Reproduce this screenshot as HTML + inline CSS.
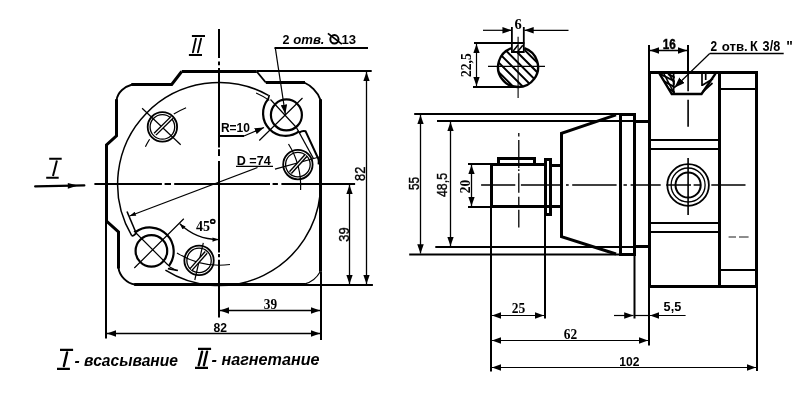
<!DOCTYPE html>
<html><head><meta charset="utf-8">
<style>
html,body{margin:0;padding:0;background:#fff;}
body{width:799px;height:420px;overflow:hidden;}
svg{display:block;will-change:transform;}
.sn{font-family:"Liberation Sans",sans-serif;font-weight:bold;}
.sf{font-family:"Liberation Serif",serif;font-weight:bold;}
.md{font-family:"Liberation Sans",sans-serif;font-weight:normal;stroke:#000;stroke-width:0.35px;}
</style></head>
<body>
<svg width="799" height="420" viewBox="0 0 799 420">
<defs>
<marker id="ar" viewBox="0 0 10 7" refX="10" refY="3.5" markerWidth="9.5" markerHeight="6.5" orient="auto-start-reverse" markerUnits="userSpaceOnUse">
<path d="M0,0 L10,3.5 L0,7 z" fill="#000"/></marker>
<marker id="as" viewBox="0 0 10 7" refX="10" refY="3.5" markerWidth="7" markerHeight="5" orient="auto-start-reverse" markerUnits="userSpaceOnUse">
<path d="M0,0 L10,3.5 L0,7 z" fill="#000"/></marker>
<marker id="ab" viewBox="0 0 10 7" refX="10" refY="3.5" markerWidth="11" markerHeight="7.5" orient="auto-start-reverse" markerUnits="userSpaceOnUse">
<path d="M0,0 L10,3.5 L0,7 z" fill="#000"/></marker>
<marker id="an" viewBox="0 0 10 7" refX="10" refY="3.5" markerWidth="13" markerHeight="4.4" orient="auto-start-reverse" markerUnits="userSpaceOnUse">
<path d="M0,0 L10,3.5 L0,7 z" fill="#000"/></marker>
<marker id="an2" viewBox="0 0 10 7" refX="10" refY="3.5" markerWidth="10.5" markerHeight="4.2" orient="auto-start-reverse" markerUnits="userSpaceOnUse">
<path d="M0,0 L10,3.5 L0,7 z" fill="#000"/></marker>
<clipPath id="shaftclip">
<path d="M511.7,48.1 A20,20 0 1 0 524.4,48.1 L524.4,52 L511.7,52 Z"/>
</clipPath>
</defs>
<rect width="799" height="420" fill="#fff"/>

<!-- ================= LEFT VIEW ================= -->
<g fill="none" stroke="#000" stroke-linecap="butt" stroke-linejoin="miter">
<!-- outline thick -->
<path stroke-width="3" d="M181.7,71.5 L171.7,84.5 L131.4,84.5 M116.5,99.2 L116.5,135.8 L106.5,145 L106.5,221 L118.5,232 L118.5,268.6 M134.2,284.5 L305,284.5"/>
<path stroke-width="1.9" d="M132.2,84.5 C125,86.5 117.5,92 116.5,100.5 M118.5,267.8 C119.5,276 127,283.5 135,284.5 M304.2,82.5 C310,85 318,92 320.5,100"/>
<path stroke-width="3" d="M181.7,71.5 L256.7,71.5 M265.8,82.5 L305,82.5 M320.5,99.2 L320.5,271.7"/>
<path stroke-width="1.9" d="M256.7,71.5 L265.8,82.5"/>
<!-- extension lines -->
<path stroke-width="2" d="M256.7,71 H371.7 M305,285 H372.9 M321,271.7 V340 M106,221 V338.5"/>
<path stroke-width="1.2" d="M305,283.8 Q315,281 320.2,271.7"/>
<!-- centerlines -->
<path stroke-width="2" d="M219,28.9 V58 M219,61.6 V65.2 M219,67.9 V147.4 M219,149.2 V155.9 M219,161 V252.4 M219,254 V257.2 M219,259.7 V317.6"/>
<path stroke-width="2" d="M94.4,184 H161.9 M164.6,184 H171 M174.2,184 H270 M272.6,184 H277.9 M281.4,184 H355.1"/>
<!-- big circle D=74 -->
<path stroke-width="1.5" d="M268.4,95.3 A101.5,101.5 0 0 0 131.7,235.6"/>
<path stroke-width="1.5" d="M320.1,194.7 A101.5,101.5 0 0 1 165.4,270.2"/>
<!-- slot inner lines -->
<path stroke-width="1.1" d="M256.1,93 Q263,96 269.3,100.4"/>
<path stroke-width="2" d="M299.3,132.6 Q302.5,130.2 305.6,131.3 L318.2,158.5 Q319.2,161 318.6,164.5"/>
<path stroke-width="1.3" d="M296.4,127.5 L313.3,158.3"/>
<path stroke-width="1.6" d="M127,211.5 L136,232.8"/>
<path stroke-width="1.8" d="M131.7,235.4 Q133.2,236.8 136.2,233.2"/>
<path stroke-width="1.6" d="M167.9,268.6 L177.9,270.5"/>
<path stroke-width="1.1" d="M169.3,266.8 L177,270.7"/>

<!-- big hole top-right -->
<circle cx="286.4" cy="114.9" r="15.5" stroke-width="2.2"/>
<path stroke-width="2.2" d="M268.3,98.9 A22.5,22.5 0 0 0 299.3,131.15"/>
<path stroke-width="1.6" d="M269.3,95 L268.3,99"/>
<path stroke-width="1.2" d="M302.5,98 L259.3,140.5 M270.5,99.5 L296.4,127.5"/>
<!-- big hole lower-left -->
<circle cx="151.4" cy="250.9" r="15.8" stroke-width="2.2"/>
<path stroke-width="2.2" d="M135.6,232 A24,24 0 0 1 168.6,266.2"/>
<path stroke-width="1.2" d="M134,231 L168,265 M183.8,218.8 L134.3,268"/>

<!-- small holes -->
<g>
<circle cx="162.4" cy="126.9" r="14.7" stroke-width="1.8"/>
<circle cx="162.4" cy="126.9" r="12.3" stroke-width="1.3"/>
<path stroke-width="1.2" d="M142.1,108.2 L180.7,144.7"/>
<path stroke-width="1.2" d="M186.1,107.7 A80,80 0 0 0 173.8,114.1 M149.6,139.3 A80,80 0 0 0 145.4,146.8"/>
<path stroke-width="4" d="M172.1,117.3 L155,134.2"/>
<path stroke-width="1.2" stroke="#fff" d="M172.1,117.3 L155,134.2"/>
</g>
<g>
<circle cx="297.9" cy="164.6" r="14.7" stroke-width="1.8"/>
<circle cx="297.9" cy="164.6" r="12.3" stroke-width="1.3"/>
<path stroke-width="1.2" d="M275,169.1 L319.2,157"/>
<path stroke-width="1.2" d="M288.5,144 A80,80 0 0 1 300.6,190"/>
<path stroke-width="4" d="M306.1,155.4 L290.4,172.6"/>
<path stroke-width="1.2" stroke="#fff" d="M306.1,155.4 L290.4,172.6"/>
</g>
<g>
<circle cx="199.05" cy="260.4" r="14.7" stroke-width="1.8"/>
<circle cx="199.05" cy="260.4" r="12.2" stroke-width="1.3"/>
<path stroke-width="1.2" d="M203.3,242.8 L194.8,280"/>
<path stroke-width="1.2" d="M177,252.9 A80,80 0 0 0 230,264.5"/>
<path stroke-width="4" d="M206.2,252.4 L191,269.5"/>
<path stroke-width="1.2" stroke="#fff" d="M206.2,252.4 L191,269.5"/>
</g>

<!-- 45 deg angle -->

<path stroke-width="1.3" marker-start="url(#an2)" marker-end="url(#an2)" d="M179.8,223.8 A55.6,55.6 0 0 0 218.5,239.6"/>

<!-- leaders -->
<path stroke-width="1.2" marker-end="url(#ar)" d="M275.3,47.8 L285.3,114"/>
<path stroke-width="2" d="M274.5,48 H368"/>
<path stroke-width="2" d="M219,136 H244"/>
<path stroke-width="1.3" marker-end="url(#ar)" d="M244,136 L264,127.5"/>
<path stroke-width="1.2" marker-end="url(#an)" d="M257.5,167.5 L129.6,216"/>
<path stroke-width="1.3" d="M236,166.3 H273"/>

<!-- dimensions left view -->
<path stroke-width="1.3" marker-start="url(#ar)" marker-end="url(#ar)" d="M366.5,72 V284"/>
<path stroke-width="1.3" marker-start="url(#ar)" marker-end="url(#ar)" d="M349.5,185 V284"/>
<path stroke-width="1.3" marker-start="url(#ar)" marker-end="url(#ar)" d="M220,310.5 H320"/>
<path stroke-width="1.3" marker-start="url(#ar)" marker-end="url(#ar)" d="M107,333.5 H320"/>

<!-- I arrow -->
<path stroke-width="2.3" stroke-linecap="round" d="M35.2,186.4 L84.3,185.4"/>
<path fill="#000" stroke="none" d="M67.8,183 L78,185.6 L67.8,188.7 Z"/>
<path stroke-width="2" d="M49.2,158.8 H61.7 M46.2,177.8 H58.7"/>
<path stroke-width="2" d="M56.9,160.5 L53,176"/>
<!-- II top -->
<path stroke-width="2" d="M191.9,35.9 H205 M188.9,54.9 H202"/>
<path stroke-width="1.9" stroke-linecap="round" d="M195.9,38.6 L192.9,52.4 M201.1,38.6 L197.9,52.4"/>
</g>

<!-- left view text -->
<g fill="#000">
<text class="sn" x="282.6" y="43.6" font-size="12.5">2</text>
<text class="sn" x="293.2" y="43.6" font-size="12.5" font-style="italic" textLength="31.3" lengthAdjust="spacingAndGlyphs">отв.</text>
<text class="sn" x="341.4" y="43.6" font-size="12.5" textLength="14.6" lengthAdjust="spacingAndGlyphs">13</text>
<ellipse cx="334.4" cy="39.3" rx="4.1" ry="4.2" fill="none" stroke="#000" stroke-width="2"/>
<path d="M327.9,33.4 L341.9,44.1" stroke="#000" stroke-width="1.8"/>
<text class="sn" x="220.9" y="131.9" font-size="13.5" textLength="29" lengthAdjust="spacingAndGlyphs">R=10</text>
<text class="sn" x="236.7" y="165" font-size="13.5" textLength="34" lengthAdjust="spacingAndGlyphs">D =74</text>
<text class="sf" x="196" y="230.8" font-size="14">45</text>
<ellipse cx="212.75" cy="221.4" rx="2.1" ry="1.75" fill="none" stroke="#000" stroke-width="1.6"/>
<text class="sf" x="263.8" y="308.9" font-size="14.5" textLength="13.3" lengthAdjust="spacingAndGlyphs">39</text>
<text class="sn" x="213.5" y="331.5" font-size="13" textLength="13.5" lengthAdjust="spacingAndGlyphs">82</text>
<text class="md" transform="translate(365.3,181) rotate(-90)" font-size="14" textLength="14.3" lengthAdjust="spacingAndGlyphs">82</text>
<text class="md" transform="translate(348.7,241.7) rotate(-90)" font-size="14" textLength="14.3" lengthAdjust="spacingAndGlyphs">39</text>
<!-- legend -->
<text class="sn" x="74.6" y="365.6" font-size="17" font-style="italic" textLength="103.4" lengthAdjust="spacingAndGlyphs">- всасывание</text>
<text class="sn" x="211.6" y="364.6" font-size="17" font-style="italic" textLength="108" lengthAdjust="spacingAndGlyphs">- нагнетание</text>
</g>
<g fill="none" stroke="#000" stroke-width="2">
<path stroke-width="2.2" d="M60,349.9 H73.1 M57,368.9 H69.9 M198,348.9 H211.1 M195,367.9 H208"/>
<path stroke-width="2.4" stroke-linecap="round" d="M67.1,352.5 L63.9,366 M202.1,351.6 L198.7,365.3 M207.1,351.6 L203.9,365.3"/>
</g>

<!-- ================= RIGHT VIEW ================= -->
<g fill="none" stroke="#000" stroke-linecap="butt">
<!-- shaft section -->
<g clip-path="url(#shaftclip)" stroke-width="2">
<path d="M389.0,20 L489.0,120 M398.6,20 L498.6,120 M408.2,20 L508.2,120 M417.8,20 L517.8,120 M427.4,20 L527.4,120 M437.0,20 L537.0,120 M446.6,20 L546.6,120 M456.2,20 L556.2,120 M465.8,20 L565.8,120 M475.4,20 L575.4,120 M485.0,20 L585.0,120 M494.6,20 L594.6,120 M504.2,20 L604.2,120 M513.8,20 L613.8,120 M523.4,20 L623.4,120 M533.0,20 L633.0,120 M542.6,20 L642.6,120 M552.2,20 L652.2,120"/>
</g>
<path stroke-width="2.4" d="M511.7,48.1 A20,20 0 1 0 524.4,48.1"/>
<path stroke-width="1.8" d="M511.9,27.1 V52 H523.8 V27.1"/>
<path stroke-width="1.5" d="M513.2,51 L518,45 M518,51.3 L522.8,45.3"/>
<path stroke-width="2" d="M474,43 H524.4 M473,87 H518"/>
<path stroke-width="1.1" d="M488,66.4 H545 M518.1,36.8 V97.9"/>
<path stroke-width="1.2" marker-start="url(#ar)" marker-end="url(#ar)" d="M476.5,44 V86"/>
<path stroke-width="1.2" marker-end="url(#ar)" d="M483,30.3 H511.7"/>
<path stroke-width="1.2" marker-end="url(#ar)" d="M568.5,30.3 H524.4"/>

<!-- main ext lines -->
<path stroke-width="2" d="M414.2,114 H620 M437,121 H634.5 M435.3,247 H634.5 M409.2,254.5 H620"/>
<path stroke-width="3" d="M619,114.5 H636 M634.5,121.5 H649.5 M634.5,246.5 H649.5 M619,254.5 H636"/>
<path stroke-width="1.3" marker-start="url(#ar)" marker-end="url(#ar)" d="M420.5,115 V253.5"/>
<path stroke-width="1.3" marker-start="url(#ar)" marker-end="url(#ar)" d="M450.5,122 V246"/>
<path stroke-width="2" d="M468,164 H490 M468,207 H490"/>
<path stroke-width="1.3" marker-start="url(#ar)" marker-end="url(#ar)" d="M471.5,165 V206"/>

<!-- shaft -->
<path stroke-width="3" d="M490,164.5 H545 M490,206.5 H561 M491.5,163 V208"/>
<path stroke-width="3" d="M498.5,163.5 V158.5 H534.5 V163.5"/>
<!-- ring -->
<rect x="545.5" y="159.5" width="5" height="55" stroke-width="3"/>
<path stroke-width="3" d="M552,165.5 H561"/>
<!-- flange taper -->
<path stroke-width="3" d="M616,114.8 L561.5,133.3 V236.6 L616,254"/>
<!-- flange plate -->
<path stroke-width="3" d="M620.5,255 V113 M634.5,113 V256"/>
<!-- body -->
<path stroke-width="3" d="M649.5,72.5 H756.5 V286.5 H649.5 Z"/>
<path stroke-width="3" d="M719.5,72.5 V286.5"/>
<path stroke-width="2" d="M649.5,140 H719.5 M649.5,149 H719.5 M649.5,223 H719.5 M649.5,232 H719.5 M719.5,89 H756.5 M719.5,270 H756.5"/>
<path stroke-width="0.9" d="M728.6,237 H736 M739,237 H748.6"/>

<!-- port top -->
<clipPath id="portclip"><path d="M660,73.5 L674.8,73.5 L674.8,93 L671.5,93 Z"/></clipPath>
<g clip-path="url(#portclip)" stroke-width="2"><path d="M660,74 L676,82 M662,80 L676,88 M664,86 L676,93 M668,74 L676,78"/><path stroke-width="1.6" d="M664,74 L674,93 M669,74 L676,86"/></g>

<path stroke-width="2.4" d="M659.5,73.6 L671.8,94 H701.5 L715.5,73.6"/>
<path stroke-width="1.8" d="M673.6,74 V93"/>
<path stroke-width="1.7" d="M702,74 V86 M705.7,74 V80 M702.3,85.3 L713,78.7 M702.5,92 L712.5,83"/>
<!-- port circles -->
<circle cx="688.1" cy="185" r="20.8" stroke-width="1.8"/>
<circle cx="688.1" cy="185" r="17" stroke-width="1.3"/>
<circle cx="688.1" cy="185" r="12.6" stroke-width="2"/>
<!-- centerlines right -->
<path stroke-width="1.6" d="M481.1,185 H515.3 M520.9,185 H562.6 M566,185 H568.7 M572.2,185 H616.6 M623.5,185 H626.9 M630.6,185 H660.7 M666.3,185 H691 M693.6,185 H700.7 M711.3,185 H745.5"/>
<path stroke-width="1.3" d="M518.8,133 V136.5 M518.8,140 V168 M518.8,169.3 V171 M518.8,173.2 V192.8 M518.8,196.8 V206 M518.8,209.8 V227.4"/>
<path stroke-width="1.6" d="M688.1,72 V91.2 M688.1,99.8 V126.7 M688.1,158 V215"/>
<!-- 16 dim -->
<path stroke-width="2" d="M649,44.9 V72 M688,44.9 V72"/>
<path stroke-width="1.3" marker-start="url(#ar)" marker-end="url(#ar)" d="M650,50.5 H687"/>
<!-- K 3/8 leader -->
<path stroke-width="1.5" d="M709.7,53.5 H783.7"/>
<path stroke-width="1.2" marker-end="url(#ab)" d="M709.7,53.5 L674.3,87.7"/>

<!-- bottom ext lines -->
<path stroke-width="2" d="M491,208 V371.6 M545,216 V318.4 M634.5,256 V318.5 M649,286.5 V345.5 M757,286.5 V371"/>
<path stroke-width="1.2" marker-start="url(#ar)" marker-end="url(#ar)" d="M492,315.5 H544"/>
<path stroke-width="1.2" marker-start="url(#ar)" marker-end="url(#ar)" d="M492,340.5 H648"/>
<path stroke-width="1.2" marker-start="url(#ar)" marker-end="url(#ar)" d="M492,367.5 H756"/>
<path stroke-width="1.2" marker-end="url(#ar)" d="M614,315.5 H633.5"/>
<path stroke-width="1.2" marker-end="url(#ar)" d="M685.6,315.5 H650"/>
<path stroke-width="1.2" d="M634.5,315.5 H649.5"/>
</g>

<!-- right view text -->
<g fill="#000">
<text class="sf" x="514.6" y="28.9" font-size="14.5">6</text>
<text class="sf" transform="translate(470.8,77) rotate(-90)" font-size="14" textLength="23.8" lengthAdjust="spacingAndGlyphs">22,5</text>
<text class="md" transform="translate(419,190) rotate(-90)" font-size="14" textLength="13.2" lengthAdjust="spacingAndGlyphs">55</text>
<text class="md" transform="translate(447.3,197) rotate(-90)" font-size="14" textLength="24" lengthAdjust="spacingAndGlyphs">48,5</text>
<text class="sf" transform="translate(470,193.2) rotate(-90)" font-size="14.5" textLength="13.5" lengthAdjust="spacingAndGlyphs">20</text>
<text class="sn" x="662.7" y="49" font-size="13.8" textLength="13" lengthAdjust="spacingAndGlyphs" stroke="#000" stroke-width="0.45">16</text>
<text class="sn" x="710.4" y="50.9" font-size="13.8" textLength="6.6" lengthAdjust="spacingAndGlyphs">2</text>
<text class="sn" x="721.8" y="50.9" font-size="13" textLength="26" lengthAdjust="spacingAndGlyphs">отв.</text>
<text class="sn" x="750" y="50.9" font-size="13.8" textLength="7.8" lengthAdjust="spacingAndGlyphs">К</text>
<text class="sn" x="762.6" y="50.9" font-size="13.8" textLength="17.6" lengthAdjust="spacingAndGlyphs">3/8</text>
<text class="sn" x="786.2" y="50.9" font-size="13.8" textLength="6.6" lengthAdjust="spacingAndGlyphs">"</text>
<text class="sf" x="511.8" y="312.9" font-size="14.5" textLength="13.5" lengthAdjust="spacingAndGlyphs">25</text>
<text class="sf" x="563.8" y="338.7" font-size="14.5" textLength="13.4" lengthAdjust="spacingAndGlyphs">62</text>
<text class="sn" x="619.2" y="366.2" font-size="13" textLength="20.2" lengthAdjust="spacingAndGlyphs">102</text>
<text class="sn" x="663.6" y="310.6" font-size="13" textLength="17.6" lengthAdjust="spacingAndGlyphs">5,5</text>
</g>
</svg>
</body></html>
